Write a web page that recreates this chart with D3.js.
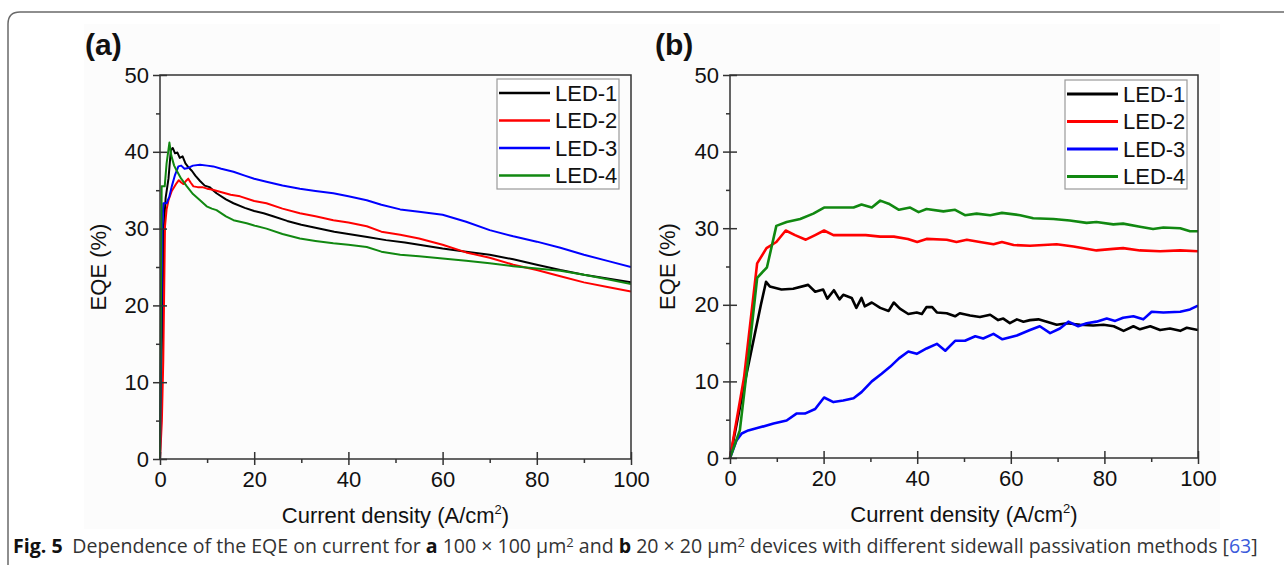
<!DOCTYPE html>
<html><head><meta charset="utf-8">
<script src="https://cdn.jsdelivr.net/npm/d3@7"></script>
<style>
html,body{margin:0;padding:0;background:#fff;}
svg{display:block;}
</style></head>
<body>
<svg id="chart" width="1284" height="565"></svg>
<script>
// ---------- DATA ----------
const seriesNames = ["LED-1","LED-2","LED-3","LED-4"];
const seriesColors = ["#000000","#ff0000","#0000ff","#118811"];
const xTicks = [0,20,40,60,80,100];
const xMinorTicks = [10,30,50,70,90];
const yTicks = [0,10,20,30,40,50];
const yMinorTicks = [5,15,25,35,45];

// Panel (a): 100x100 um^2
const aLED1 = [[0,0],[0.4,15],[0.8,30],[1.2,34],[1.8,36.5],[2.3,40.2],[2.7,40.5],[3.2,39.8],[3.7,39.9],[4.2,39.2],[4.8,39.4],[5.4,38.5],[6,38.0],[6.8,37.5],[7.5,36.9],[8.5,36.2],[9.5,35.6],[10.5,35.4],[12,34.6],[14,33.8],[15.6,33.3],[18,32.7],[20,32.3],[22,32.0],[24,31.6],[27,31.0],[30,30.5],[33,30.1],[37,29.6],[40,29.3],[44,28.9],[48,28.5],[52,28.2],[56,27.8],[60,27.4],[65,27.0],[70,26.6],[75,26.0],[80,25.3],[85,24.6],[90,24.0],[95,23.5],[100,23.0]];
const aLED2 = [[0,0],[0.4,5],[0.7,12.9],[1.06,30.3],[1.4,32.5],[1.8,33.7],[2.5,34.9],[3.5,35.9],[4,36.3],[4.5,36.0],[5,35.8],[5.5,36.2],[6,36.5],[6.5,36.0],[7.1,35.5],[8,35.4],[9,35.4],[10,35.2],[11,35.1],[12.7,34.8],[15,34.4],[17,34.2],[20,33.6],[22.6,33.3],[26,32.6],[29.7,32.0],[33,31.6],[36.8,31.1],[40,30.8],[43.9,30.3],[47,29.6],[51,29.2],[55,28.7],[60,27.9],[65,26.9],[70,26.2],[75,25.3],[80,24.6],[85,23.8],[90,23.0],[95,22.4],[100,21.8]];
const aLED3 = [[0,0],[0.3,20],[0.5,30],[0.7,33.3],[1.4,33.3],[2,34.2],[2.5,35.5],[3.2,37.0],[3.9,38.1],[4.5,38.2],[5.2,37.8],[6,37.9],[7,38.2],[8.5,38.3],[10,38.2],[11.3,38.1],[13,37.8],[15.6,37.4],[18,36.9],[20,36.5],[22.6,36.1],[26,35.6],[29.7,35.2],[33,34.9],[36.8,34.6],[40,34.2],[43.9,33.7],[47,33.1],[51,32.5],[55,32.2],[60,31.8],[65,30.9],[70,29.8],[75,29.0],[80,28.3],[85,27.5],[90,26.6],[95,25.8],[100,25.0]];
const aLED4 = [[0,0],[0.2,20],[0.35,35.5],[0.7,35.5],[1.0,35.5],[1.4,38.5],[2.0,41.2],[2.4,39.5],[3.0,38.2],[3.5,37.6],[4.5,36.5],[5.7,35.5],[7,34.5],[8.5,33.7],[9.9,32.9],[11,32.6],[12,32.4],[14,31.6],[15.6,31.1],[18.4,30.7],[20,30.4],[22.6,30.0],[26,29.3],[29.7,28.7],[33,28.4],[36.8,28.1],[40,27.9],[43.9,27.6],[47,27.0],[51,26.6],[55,26.4],[60,26.1],[65,25.8],[70,25.5],[75,25.1],[80,24.8],[85,24.5],[90,24.0],[95,23.4],[100,22.8]];

// Panel (b): 20x20 um^2
const bLED1 = [[0,0],[3.2,10],[6.6,20],[7.7,23.0],[8.5,22.4],[11,22.0],[13.5,22.1],[16.7,22.6],[18.2,21.7],[19.9,22.0],[20.8,20.8],[22.2,21.9],[23.4,20.7],[24.2,21.3],[26,20.9],[27,19.6],[28.1,20.9],[28.8,19.8],[30.3,20.3],[32.1,19.6],[33.9,19.2],[35,20.3],[36.3,19.5],[38.1,18.8],[39.9,19.0],[41,18.8],[42,19.7],[43.2,19.7],[44.2,19.0],[46.3,18.9],[48.1,18.5],[49.1,18.9],[51.3,18.6],[53.4,18.4],[55.6,18.7],[57.3,18.0],[58.4,18.2],[59.8,17.6],[61.3,18.1],[62.7,17.8],[64.1,18.0],[65.9,18.1],[67.7,17.8],[69.8,17.4],[72,17.6],[74.8,17.4],[77.6,17.3],[79.8,17.4],[82,17.2],[84.1,16.6],[86.2,17.2],[87.6,16.8],[89.8,17.2],[91.9,16.7],[94,16.9],[96.2,16.6],[97.6,17.0],[100,16.7]];
const bLED2 = [[0,0],[3,10.5],[5.8,25.4],[7.8,27.4],[9.9,28.2],[11.9,29.7],[13.9,29.1],[16.2,28.5],[18.2,29.1],[20.1,29.7],[22.1,29.1],[26.4,29.1],[29,29.1],[32.1,28.9],[35,28.9],[38,28.6],[40,28.2],[42,28.6],[46.3,28.5],[48.4,28.2],[50.6,28.5],[53.4,28.2],[56.3,27.9],[58.1,28.2],[60.6,27.8],[64.1,27.7],[67,27.8],[69.8,27.9],[73.4,27.6],[78.3,27.1],[81.9,27.3],[84,27.4],[87.6,27.1],[91.9,27.0],[96.2,27.1],[100,27.0]];
const bLED3 = [[0,0],[1.4,2.3],[2.5,3.2],[3.9,3.6],[6.4,4.0],[9.3,4.5],[12.1,4.9],[14.2,5.8],[16,5.8],[18.2,6.4],[20.1,7.9],[22.1,7.3],[24.2,7.5],[26.4,7.8],[28.1,8.6],[30.3,10.0],[32.4,11.0],[34.2,11.9],[36.1,13.0],[38.1,13.9],[39.9,13.6],[42,14.3],[44.2,14.9],[46,14.0],[48.1,15.3],[50.2,15.3],[52.4,15.9],[54.1,15.6],[56.3,16.2],[58.2,15.5],[61.3,16.0],[64.1,16.7],[66.2,17.2],[68.4,16.3],[70.5,16.9],[72.3,17.8],[74.4,17.2],[76.2,17.6],[78.3,17.8],[80.5,18.2],[82.3,17.9],[84,18.3],[86.2,18.5],[88.3,18.1],[90.1,19.1],[92.6,19.0],[96.2,19.1],[98.3,19.4],[100,19.9]];
const bLED4 = [[0,0],[2.1,3.6],[4,13.5],[5.8,23.5],[7.9,24.9],[9.9,30.3],[12.1,30.8],[15,31.2],[17.8,31.9],[20.1,32.7],[22.8,32.7],[26.4,32.7],[28.1,33.1],[30.3,32.7],[32.1,33.6],[33.9,33.2],[36.1,32.4],[38.5,32.7],[40.3,32.1],[42,32.5],[45.6,32.2],[48.1,32.4],[50.2,31.7],[52.7,31.9],[55.6,31.7],[58.1,32.0],[62,31.7],[64.8,31.3],[69.1,31.2],[72.6,31.0],[76.2,30.7],[78.3,30.8],[81.9,30.5],[84,30.6],[87.6,30.2],[90.4,29.9],[92.6,30.1],[96.2,30.0],[98.3,29.6],[100,29.6]];

const panelLabels = ["(a)","(b)"];
const xTitle = "Current density (A/cm";
const yTitle = "EQE (%)";

// ---------- DRAW ----------
const svg = d3.select("#chart");
const FONT = "'Liberation Sans', Arial, sans-serif";

// outer rounded frame (top + left)
svg.append("path")
  .attr("d","M8,565 L8,24 Q8,12 20,12 L1284,12")
  .attr("fill","none").attr("stroke","#6a6a6a").attr("stroke-width",1.5);

// faint picture background
svg.append("rect").attr("x",84).attr("y",24).attr("width",1136).attr("height",505).attr("fill","#fcfcfc");

const panels = [
  {left:160,right:631,top:75,bottom:459,data:[aLED1,aLED2,aLED3,aLED4],lw:2.0,
   legend:{x:497,y:79,w:122,h:110},label:panelLabels[0],labelX:85,yTitleX:98},
  {left:730,right:1198,top:75,bottom:458,data:[bLED1,bLED2,bLED3,bLED4],lw:2.6,
   legend:{x:1065,y:80,w:122,h:109},label:panelLabels[1],labelX:655,yTitleX:667}
];

panels.forEach((p,pi)=>{
  const x = d3.scaleLinear().domain([0,100]).range([p.left,p.right]);
  const y = d3.scaleLinear().domain([0,50]).range([p.bottom,p.top]);
  const g = svg.append("g");

  const clipId = "clip"+pi;
  svg.append("clipPath").attr("id",clipId).append("rect")
    .attr("x",p.left-2).attr("y",p.top).attr("width",p.right-p.left+2).attr("height",p.bottom-p.top+1);

  const line = d3.line().x(d=>x(d[0])).y(d=>y(d[1])).curve(d3.curveLinear);
  p.data.forEach((s,i)=>{
    g.append("path").datum(s).attr("d",line)
      .attr("fill","none").attr("stroke",seriesColors[i])
      .attr("stroke-width",p.lw).attr("stroke-linejoin","round")
      .attr("clip-path",`url(#${clipId})`);
  });

  const axisColor = "#333";
  const styleAxis = sel=>{
    sel.selectAll("path.domain").remove();
    sel.selectAll("line").attr("stroke",axisColor).attr("stroke-width",1.5);
    sel.selectAll("text").attr("font-family",FONT).attr("font-size",22).attr("fill","#111");
  };

  const gx = g.append("g").attr("transform",`translate(0,${p.bottom})`)
    .call(d3.axisBottom(x).tickValues(xTicks).tickSize(6).tickPadding(6).tickFormat(d3.format("d")));
  styleAxis(gx);
  const gxi = g.append("g").attr("transform",`translate(0,${p.bottom})`)
    .call(d3.axisTop(x).tickValues(xTicks).tickSize(7).tickFormat(""));
  styleAxis(gxi);
  const gxm = g.append("g").attr("transform",`translate(0,${p.bottom})`)
    .call(d3.axisBottom(x).tickValues(xMinorTicks).tickSize(4).tickFormat(""));
  styleAxis(gxm);

  const gy = g.append("g").attr("transform",`translate(${p.left},0)`)
    .call(d3.axisLeft(y).tickValues(yTicks).tickSize(7).tickPadding(4).tickFormat(d3.format("d")));
  styleAxis(gy);
  const gyi = g.append("g").attr("transform",`translate(${p.left},0)`)
    .call(d3.axisRight(y).tickValues(yTicks).tickSize(7).tickFormat(""));
  styleAxis(gyi);
  const gym = g.append("g").attr("transform",`translate(${p.left},0)`)
    .call(d3.axisLeft(y).tickValues(yMinorTicks).tickSize(4).tickFormat(""));
  styleAxis(gym);

  g.append("rect").attr("x",p.left).attr("y",p.top).attr("width",p.right-p.left).attr("height",p.bottom-p.top)
    .attr("fill","none").attr("stroke",axisColor).attr("stroke-width",1.5);

  const xt = g.append("text").attr("x",(p.left+p.right)/2).attr("y",p.bottom+64)
    .attr("text-anchor","middle").attr("font-family",FONT).attr("font-size",22).attr("fill","#111");
  xt.append("tspan").text(xTitle);
  xt.append("tspan").attr("dy",-9).attr("font-size",13).text("2");
  xt.append("tspan").attr("dy",9).text(")");

  g.append("text").attr("transform",`translate(${p.yTitleX},${(p.top+p.bottom)/2}) rotate(-90)`)
    .attr("text-anchor","middle").attr("dominant-baseline","central")
    .attr("font-family",FONT).attr("font-size",22).attr("fill","#111").text(yTitle);

  g.append("text").attr("x",p.labelX).attr("y",55).attr("font-family",FONT)
    .attr("font-size",30).attr("fill","#111").attr("font-weight","bold").text(p.label);

  const L = p.legend;
  g.append("rect").attr("x",L.x).attr("y",L.y).attr("width",L.w).attr("height",L.h)
    .attr("fill","#fff").attr("stroke","#9a9a9a").attr("stroke-width",1.2);
  seriesNames.forEach((n,i)=>{
    const cy = L.y + 14 + i*27.5;
    g.append("line").attr("x1",L.x+2).attr("x2",L.x+53).attr("y1",cy).attr("y2",cy)
      .attr("stroke",seriesColors[i]).attr("stroke-width",p.lw+0.4);
    g.append("text").attr("x",L.x+58).attr("y",cy).attr("dominant-baseline","central")
      .attr("font-family",FONT).attr("font-size",22).attr("fill","#111").text(n);
  });
});

// caption
const cap = svg.append("text").attr("x",13).attr("y",553)
  .attr("font-family","'Open Sans', 'Noto Sans', sans-serif").attr("font-size",15).attr("fill","#333");
const add = (t,o={})=>{
  const s = cap.append("tspan").text(t);
  if(o.bold) s.attr("font-weight","bold").attr("fill","#111");
  if(o.fill) s.attr("fill",o.fill);
  if(o.sup) s.attr("dy",-6).attr("font-size",10);
  if(o.unsup) s.attr("dy",6);
  return s;
};
add("Fig. 5",{bold:true});
add("\u2002Dependence of the EQE on current for ");
add("a",{bold:true});
add(" 100 \u00d7 100 \u00b5m");
add("2",{sup:true});
add(" and ",{unsup:true});
add("b",{bold:true});
add(" 20 \u00d7 20 \u00b5m");
add("2",{sup:true});
add(" devices with different sidewall passivation methods [",{unsup:true});
add("63",{fill:"#3b5bdb"});
add("]");
const target = 1245;
const w = cap.node().getComputedTextLength();
cap.attr("font-size",15*target/w);
cap.selectAll("tspan").each(function(){
  const t=d3.select(this);
  if(t.attr("font-size")) t.attr("font-size",+t.attr("font-size")*target/w);
});
</script>
</body></html>
